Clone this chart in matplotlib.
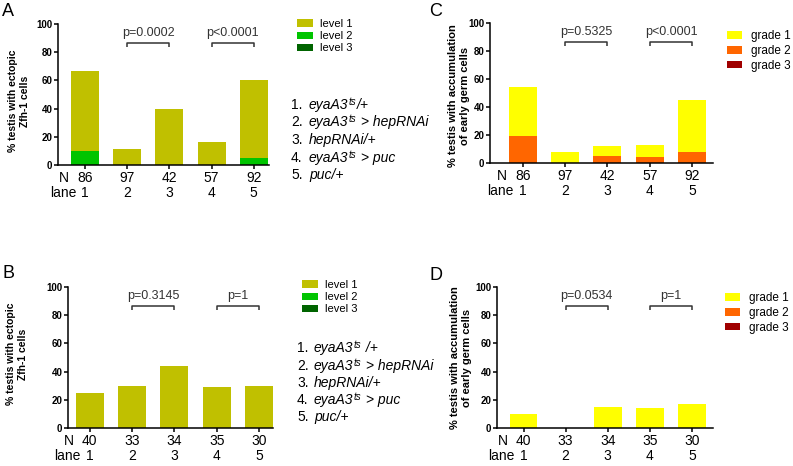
import matplotlib
matplotlib.use("Agg")
import matplotlib.pyplot as plt
import numpy as np

W, H = 793, 466
plt.rcParams["font.family"] = ["Liberation Sans", "DejaVu Sans"]

lanes = ["1", "2", "3", "4", "5"]

# A: ectopic Zfh-1 cells (segment heights, stacked level3 -> level2 -> level1)
a_n = [86, 97, 42, 57, 92]
a_level1 = [57, 11, 40, 16, 55]
a_level2 = [10, 0, 0, 0, 5]
a_level3 = [0, 0, 0, 0, 0]
a_pvals = [("p=0.0002", 1, 2), ("p<0.0001", 3, 4)]

# B
b_n = [40, 33, 34, 35, 30]
b_level1 = [25, 30, 44, 29, 30]
b_level2 = [0, 0, 0, 0, 0]
b_level3 = [0, 0, 0, 0, 0]
b_pvals = [("p=0.3145", 1, 2), ("p=1", 3, 4)]

# C: accumulation of early germ cells
c_n = [86, 97, 42, 57, 92]
c_grade1 = [35, 8, 7, 9, 37]
c_grade2 = [19, 0, 5, 4, 8]
c_grade3 = [0, 0, 0, 0, 0]
c_pvals = [("p=0.5325", 1, 2), ("p<0.0001", 3, 4)]

# D
d_n = [40, 33, 34, 35, 30]
d_grade1 = [10, 0, 15, 14, 17]
d_grade2 = [0, 0, 0, 0, 0]
d_grade3 = [0, 0, 0, 0, 0]
d_pvals = [("p=0.0534", 1, 2), ("p=1", 3, 4)]

level_names = ["level 1", "level 2", "level 3"]
level_colors = ["#c0c000", "#00c400", "#006400"]
grade_names = ["grade 1", "grade 2", "grade 3"]
grade_colors = ["#ffff00", "#ff6600", "#a00000"]

# genotype legend: (text before superscript, superscript, text after)
genotypes_a = [("eyaA3", "ts", "/+"), ("eyaA3", "ts", " > hepRNAi"),
               ("hepRNAi/+", "", ""), ("eyaA3", "ts", " > puc"),
               ("puc/+", "", "")]
genotypes_b = [("eyaA3", "ts", " /+"), ("eyaA3", "ts", " > hepRNAi"),
               ("hepRNAi/+", "", ""), ("eyaA3", "ts", " > puc"),
               ("puc/+", "", "")]


def px_rect(l, t, r, b):
    return [l / W, 1 - b / H, (r - l) / W, (b - t) / H]


def fx(x):
    return x / W


def fy(y):
    return 1 - y / H


def draw_panel(ax, segs, names, colors, n_vals, pvals, xlim, ylabel,
               ylabel_xy, ylabel_fs, leg_xy, leg_fs, leg_kw):
    x = np.arange(len(lanes))
    bottom = np.zeros(len(lanes))
    handles = []
    # stack from level 3 (bottom) up to level 1
    for seg, name, col in reversed(list(zip(segs, names, colors))):
        seg = np.array(seg, dtype=float)
        h = ax.bar(x, seg, bottom=bottom, width=0.66, color=col,
                   label=name, linewidth=0)
        handles.append(h)
        bottom += seg
    handles = handles[::-1]

    ax.set_xlim(*xlim)
    ax.set_ylim(0, 100)
    ax.set_yticks(np.arange(0, 101, 20))
    ax.set_xticks(x)
    ax.set_xticklabels([])
    for s in ("top", "right"):
        ax.spines[s].set_visible(False)
    for s in ("left", "bottom"):
        ax.spines[s].set_linewidth(1.1)
    ax.tick_params(axis="both", direction="out", length=3, width=1.1)
    ax.tick_params(axis="y", labelsize=7, pad=1)
    for lab in ax.get_yticklabels():
        lab.set_fontweight("bold")

    # N and lane rows under the axis
    for xi, n, ln in zip(x, n_vals, lanes):
        ax.annotate(str(n), xy=(xi, 0), xycoords=("data", "axes fraction"),
                    xytext=(0, -13 * 0.72), textcoords="offset points",
                    ha="center", va="center", fontsize=10)
        ax.annotate(ln, xy=(xi, 0), xycoords=("data", "axes fraction"),
                    xytext=(0, -28 * 0.72), textcoords="offset points",
                    ha="center", va="center", fontsize=10)
    ax.annotate("N", xy=(0, 0), xycoords=("data", "axes fraction"),
                xytext=(-16 * 0.72, -13 * 0.72), textcoords="offset points",
                ha="right", va="center", fontsize=10)
    ax.annotate("lane", xy=(0, 0), xycoords=("data", "axes fraction"),
                xytext=(-9 * 0.72, -28 * 0.72), textcoords="offset points",
                ha="right", va="center", fontsize=10)

    # p-value brackets
    for txt, i, j in pvals:
        ax.plot([i, i, j, j], [83.5, 86.5, 86.5, 83.5], color="#333333",
                lw=1.1, solid_capstyle="butt")
        ax.text((i + j) / 2, 93.5, txt, ha="center", va="center",
                fontsize=9, color="#333333")

    fig.text(fx(ylabel_xy[0]), fy(ylabel_xy[1]), ylabel, rotation=90,
             ha="center", va="center", fontsize=ylabel_fs,
             fontweight="bold", multialignment="center")

    ax.legend(handles=handles, labels=names, loc="upper left",
              bbox_to_anchor=(fx(leg_xy[0]), fy(leg_xy[1])),
              bbox_transform=fig.transFigure, frameon=False,
              fontsize=leg_fs, borderpad=0, borderaxespad=0, **leg_kw)


def draw_genotypes(items, x_num, x_name, ys):
    r = fig.canvas.get_renderer()
    for k, ((pre, sup, post), y) in enumerate(zip(items, ys)):
        base = fy(y + 4)
        fig.text(fx(x_num), base, f"{k + 1}.", ha="left", va="baseline",
                 fontsize=10)
        t = fig.text(fx(x_name), base, pre, ha="left", va="baseline",
                     fontsize=10, style="italic")
        if not sup:
            continue
        x1 = t.get_window_extent(r).x1 + 0.5
        s = fig.text(x1 / W, base + 4 / H, sup, ha="left", va="baseline",
                     fontsize=7, style="italic")
        x2 = s.get_window_extent(r).x1
        fig.text(x2 / W, base, post, ha="left", va="baseline",
                 fontsize=10, style="italic")


fig = plt.figure(figsize=(W / 100, H / 100), dpi=100)

leg_a = dict(handlelength=1.45, handleheight=0.65, handletextpad=0.6,
             labelspacing=0.2)
leg_c = dict(handlelength=1.3, handleheight=0.6, handletextpad=0.7,
             labelspacing=0.25)

ax_a = fig.add_axes(px_rect(58, 24, 269, 165))
draw_panel(ax_a, [a_level1, a_level2, a_level3], level_names, level_colors,
           a_n, a_pvals, (-0.64, 4.36),
           "% testis with ectopic\nZfh-1 cells", (19, 101), 7.5,
           (297, 19), 8, leg_a)

ax_c = fig.add_axes(px_rect(490, 23, 713, 163))
draw_panel(ax_c, [c_grade1, c_grade2, c_grade3], grade_names, grade_colors,
           c_n, c_pvals, (-0.77, 4.49),
           "% testis with accumulation\nof early germ cells", (459, 96), 8,
           (727, 30), 8.5, leg_c)

ax_b = fig.add_axes(px_rect(68, 287, 273, 428))
draw_panel(ax_b, [b_level1, b_level2, b_level3], level_names, level_colors,
           b_n, b_pvals, (-0.51, 4.33),
           "% testis with ectopic\nZfh-1 cells", (17, 354), 7.5,
           (302, 280), 8, leg_a)

ax_d = fig.add_axes(px_rect(497, 287, 713, 428))
draw_panel(ax_d, [d_grade1, d_grade2, d_grade3], grade_names, grade_colors,
           d_n, d_pvals, (-0.63, 4.5),
           "% testis with accumulation\nof early germ cells", (461, 358), 8,
           (725, 292), 8.5, leg_c)

draw_genotypes(genotypes_a, 291, 309, [105, 122, 140, 158, 175])
draw_genotypes(genotypes_b, 297, 314, [348, 366, 383, 400, 417])

for lab, (px, py) in zip("ACBD", [(8, 12), (436, 12), (9, 274), (436, 276)]):
    fig.text(fx(px), fy(py), lab, ha="center", va="center", fontsize=13)

fig.savefig("out.png", dpi=100)
